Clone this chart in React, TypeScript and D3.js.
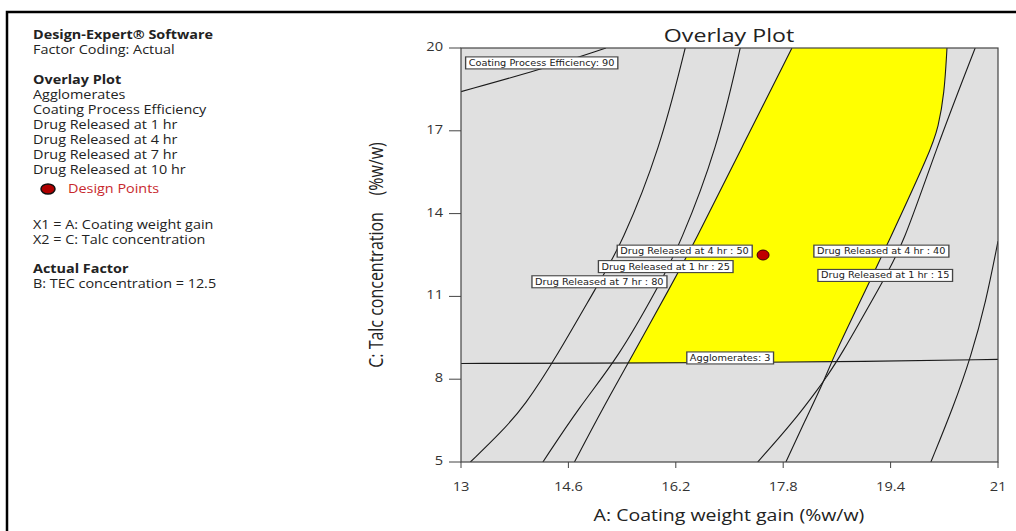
import React, { useEffect, useRef } from 'react';
import * as d3 from 'd3';

// axis ticks
const xTicks = [13, 14.6, 16.2, 17.8, 19.4, 21];
const yTicks = [5, 8, 11, 14, 17, 20];

// contour lines, [A, C] pairs
const cpe90 = [[13, 18.42], [14.16, 19.2], [15.16, 20]];
const dr7hr80 = [[13.14, 5], [13.59, 6.06], [13.95, 7.03], [14.43, 8.84], [15.03, 11.4], [15.39, 12.87], [15.97, 16.38], [16.34, 20]];
const dr1hr25 = [[14.22, 5], [14.77, 7.03], [15.34, 8.77], [15.95, 11.4], [16.26, 12.87], [16.82, 16.38], [17.16, 20]];
const dr4hr50 = [[14.69, 5], [15.13, 7.03], [15.55, 8.84], [16.13, 11.4], [16.46, 12.87], [17.18, 16.38], [17.93, 20]];
const dr4hr40 = [[17.84, 5], [18.11, 6.42], [18.42, 8.0], [18.54, 8.77], [19.06, 11.4], [19.35, 12.87], [20.0, 16.3], [20.11, 17.13], [20.2, 18.33], [20.24, 20]];
const dr1hr15 = [[17.42, 5], [17.94, 6.42], [18.35, 7.75], [18.42, 8.0], [18.64, 8.77], [19.25, 11.4], [19.59, 12.87], [20.07, 16.3], [20.66, 20]];
const dr10hr = [[20.0, 5], [20.34, 7.03], [20.6, 8.84], [20.82, 10.8], [21, 13.0]];
const agglom3 = [[13, 8.57], [15, 8.58], [17, 8.6], [19, 8.64], [21, 8.72]];

// contour labels: text, A, C
const labelText = ['Coating Process Efficiency: 90', 'Drug Released at 4 hr : 50', 'Drug Released at 4 hr : 40', 'Drug Released at 1 hr : 25', 'Drug Released at 7 hr : 80', 'Drug Released at 1 hr : 15', 'Agglomerates: 3'];
const labelA = [14.2, 16.33, 19.26, 16.05, 15.06, 19.32, 17.01];
const labelC = [19.46, 12.64, 12.64, 12.08, 11.53, 11.76, 8.77];

// design point
const designA = [17.5];
const designC = [12.5];

// left panel
const infoLines = [
  { t: 'Design-Expert® Software', b: true, y: 35 },
  { t: 'Factor Coding: Actual', b: false, y: 50 },
  { t: 'Overlay Plot', b: true, y: 80 },
  { t: 'Agglomerates', b: false, y: 95 },
  { t: 'Coating Process Efficiency', b: false, y: 110 },
  { t: 'Drug Released at 1 hr', b: false, y: 125 },
  { t: 'Drug Released at 4 hr', b: false, y: 140 },
  { t: 'Drug Released at 7 hr', b: false, y: 155 },
  { t: 'Drug Released at 10 hr', b: false, y: 170 },
  { t: 'X1 = A: Coating weight gain', b: false, y: 225 },
  { t: 'X2 = C: Talc concentration', b: false, y: 240 },
  { t: 'Actual Factor', b: true, y: 269 },
  { t: 'B: TEC concentration = 12.5', b: false, y: 284 },
];

// the source picture is stretched sideways, so text is too
const SX = 1.22;

export default function App() {
  const ref = useRef<SVGSVGElement>(null);

  useEffect(() => {
    const svg = d3.select(ref.current);
    svg.selectAll('*').remove();
    const font = '"Open Sans", "DejaVu Sans", sans-serif';

    const x = d3.scaleLinear().domain([13, 21]).range([461, 998]);
    const y = d3.scaleLinear().domain([5, 20]).range([462, 48]);

    const put = (g: any, px: number, py: number, txt: string, anchor: string, size: number, color: string, bold = false) =>
      g.append('text')
        .attr('transform', `translate(${px},${py}) scale(${SX},1)`)
        .attr('text-anchor', anchor)
        .style('font-family', font).style('font-size', size + 'px')
        .style('font-weight', bold ? 'bold' : 'normal')
        .attr('fill', color).text(txt);

    // outer frame
    svg.append('path').attr('d', 'M7,531 L7,12 L1016,12').attr('fill', 'none').attr('stroke', '#000').attr('stroke-width', 2.5);

    // info panel
    const info = svg.append('g');
    infoLines.forEach(d => put(info, 33, d.y + 4, d.t, 'start', 11.8, '#222', d.b));
    info.append('ellipse').attr('cx', 48).attr('cy', 189).attr('rx', 7).attr('ry', 5)
      .attr('fill', '#b00000').attr('stroke', '#111').attr('stroke-width', 1.5);
    put(info, 68, 193, 'Design Points', 'start', 11.8, '#c8282d');

    // clip
    const defs = svg.append('defs');
    defs.append('clipPath').attr('id', 'plotClip').append('rect')
      .attr('x', x(13)).attr('y', y(20)).attr('width', x(21) - x(13)).attr('height', y(5) - y(20));
    const aboveAgg = d3.area<number[]>().x(d => x(d[0])).y0(y(20)).y1(d => y(d[1]));
    defs.append('clipPath').attr('id', 'aggClip').append('path').attr('d', aboveAgg(agglom3));

    const plot = svg.append('g').attr('clip-path', 'url(#plotClip)');
    plot.append('rect').attr('x', x(13)).attr('y', y(20)).attr('width', x(21) - x(13)).attr('height', y(5) - y(20)).attr('fill', '#e0e0e0');

    const line = d3.line<number[]>().x(d => x(d[0])).y(d => y(d[1])).curve(d3.curveBasis);

    // feasible region
    const left = line(dr4hr50) as string;
    const right = line(dr4hr40.slice().reverse()) as string;
    plot.append('g').attr('clip-path', 'url(#aggClip)').append('path')
      .attr('d', left + right.replace(/^M/, 'L') + 'Z')
      .attr('fill', '#ffff00');

    [cpe90, dr7hr80, dr1hr25, dr4hr50, dr4hr40, dr1hr15, dr10hr, agglom3].forEach(c => {
      plot.append('path').attr('d', line(c)).attr('fill', 'none').attr('stroke', '#1a1a1a').attr('stroke-width', 1.1);
    });

    // frame of plot
    svg.append('rect').attr('x', x(13)).attr('y', y(20)).attr('width', x(21) - x(13)).attr('height', y(5) - y(20))
      .attr('fill', 'none').attr('stroke', '#444').attr('stroke-width', 1.2);

    // contour labels
    const lab = svg.append('g');
    labelText.forEach((t, i) => {
      const g = lab.append('g').attr('transform', `translate(${x(labelA[i])},${y(labelC[i])}) scale(${SX},1)`);
      const tx = g.append('text').attr('x', 0).attr('y', 3)
        .attr('text-anchor', 'middle').attr('fill', '#222')
        .style('font-family', '"DejaVu Sans", sans-serif').style('font-size', '8px').text(t);
      const bb = (tx.node() as SVGTextElement).getBBox();
      g.insert('rect', 'text').attr('x', bb.x - 2.5).attr('y', -6).attr('width', bb.width + 5).attr('height', 12)
        .attr('fill', '#fff').attr('stroke', '#444').attr('stroke-width', 1.1);
    });

    // design point
    svg.selectAll('.dp').data(designA).enter().append('ellipse').attr('class', 'dp')
      .attr('cx', d => x(d)).attr('cy', (d, i) => y(designC[i])).attr('rx', 6).attr('ry', 5)
      .attr('fill', '#c00000').attr('stroke', '#3a0000').attr('stroke-width', 1);

    // axes
    const ax = svg.append('g');
    ax.selectAll('.xt').data(xTicks).enter().append('line')
      .attr('x1', d => x(d)).attr('x2', d => x(d)).attr('y1', y(5)).attr('y2', y(5) + 6).attr('stroke', '#444');
    xTicks.forEach(d => put(ax, x(d), 491, String(d), 'middle', 12, '#333'));
    ax.selectAll('.yt').data(yTicks).enter().append('line')
      .attr('x1', x(13) - 12).attr('x2', x(13)).attr('y1', d => y(d)).attr('y2', d => y(d)).attr('stroke', '#444');
    yTicks.forEach(d => put(ax, 443, y(d) + 3, String(d), 'end', 12, '#333'));

    put(svg, 729, 42, 'Overlay Plot', 'middle', 19, '#222');
    put(svg, 729, 521, 'A: Coating weight gain (%w/w)', 'middle', 16, '#222');
    svg.append('text').attr('transform', `translate(383,255) scale(${SX},1) rotate(-90)`).attr('text-anchor', 'middle')
      .style('font-family', font).style('font-size', '16px').attr('fill', '#222').style('white-space', 'pre')
      .text('C: Talc concentration    (%w/w)');
  }, []);

  return (
    <svg ref={ref} width={1016} height={531} style={{ position: 'absolute', left: 0, top: 0, background: '#fff' }} />
  );
}
